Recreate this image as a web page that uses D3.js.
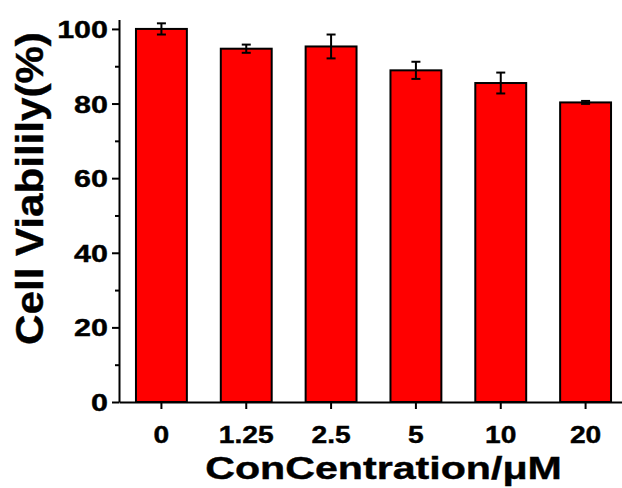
<!DOCTYPE html>
<html>
<head>
<meta charset="utf-8">
<script src="https://cdn.jsdelivr.net/npm/d3@7"></script>
<style>
  html, body { margin: 0; padding: 0; background: #fff; }
  svg { display: block; }
  text { font-family: Arial, "Liberation Sans", sans-serif; font-weight: bold; fill: #000; stroke: #000; stroke-width: 0.4px; }
</style>
</head>
<body>
<svg id="chart" width="622" height="488"></svg>
<script>
// Cell viability at each concentration (mean and error, %)
const concentrations = ["0", "1.25", "2.5", "5", "10", "20"];
const viability = [100.0, 94.7, 95.3, 88.9, 85.5, 80.3];
const viabilityErr = [1.5, 1.1, 3.2, 2.3, 2.8, 0.4];
const yMajorTicks = [0, 20, 40, 60, 80, 100];
const yMinorTicks = [10, 30, 50, 70, 90];

const svg = d3.select("#chart");

const x = d3.scaleBand()
  .domain(concentrations)
  .range([119, 628])
  .paddingInner(0.4)
  .paddingOuter(0.2);

const y = d3.scaleLinear()
  .domain([0, 102.5])
  .range([402, 19.6]);

// bars
svg.append("g")
  .selectAll("rect")
  .data(concentrations)
  .join("rect")
  .attr("x", d => x(d))
  .attr("y", (d, i) => y(viability[i]))
  .attr("width", x.bandwidth())
  .attr("height", (d, i) => y(0) - y(viability[i]))
  .attr("fill", "#ff0000")
  .attr("stroke", "#000")
  .attr("stroke-width", 2);

// error bars
const capHalf = 4.5;
const err = svg.append("g").attr("stroke", "#000").attr("stroke-width", 2);
concentrations.forEach((c, i) => {
  const cx = x(c) + x.bandwidth() / 2;
  const hi = y(viability[i] + viabilityErr[i]);
  const lo = y(viability[i] - viabilityErr[i]);
  err.append("line").attr("x1", cx).attr("x2", cx).attr("y1", hi).attr("y2", lo);
  err.append("line").attr("x1", cx - capHalf).attr("x2", cx + capHalf).attr("y1", hi).attr("y2", hi);
  err.append("line").attr("x1", cx - capHalf).attr("x2", cx + capHalf).attr("y1", lo).attr("y2", lo);
});

// y axis: minor ticks, then major ticks with labels
svg.append("g")
  .attr("transform", "translate(119,0)")
  .call(d3.axisLeft(y).tickValues(yMinorTicks).tickSize(4).tickSizeOuter(0).tickFormat(""))
  .call(g => g.select(".domain").remove())
  .call(g => g.selectAll("line").attr("stroke-width", 2));

const ySx = 1.27;
svg.append("g")
  .attr("transform", "translate(119,0)")
  .call(d3.axisLeft(y).tickValues(yMajorTicks).tickSize(7).tickSizeOuter(0).tickFormat(d3.format("d")))
  .call(g => g.select(".domain").attr("stroke-width", 2))
  .call(g => g.selectAll("line").attr("stroke-width", 2))
  .call(g => g.selectAll("text")
    .attr("font-size", 24)
    .attr("font-family", null)
    .attr("fill", null)
    .attr("x", -11 / ySx)
    .attr("dy", "0.355em")
    .attr("transform", `scale(${ySx},1)`));

// x axis
const xSx = 1.2;
svg.append("g")
  .attr("transform", "translate(0,402)")
  .call(d3.axisBottom(x).tickSize(7).tickSizeOuter(0))
  .call(g => g.select(".domain").attr("stroke-width", 2))
  .call(g => g.selectAll("line").attr("stroke-width", 2))
  .call(g => g.selectAll("text")
    .attr("font-size", 23.5)
    .attr("font-family", null)
    .attr("fill", null)
    .attr("y", 41.5)
    .attr("dy", 0)
    .attr("transform", `scale(${xSx},1)`));

// axis titles
svg.append("text")
  .attr("transform", "translate(383.5,479) scale(1.35,1)")
  .attr("text-anchor", "middle")
  .attr("font-size", 30.5)
  .text("ConCentration/μM");

svg.append("text")
  .attr("transform", "translate(43,188.5) rotate(-90) scale(1.08,1)")
  .attr("text-anchor", "middle")
  .attr("font-size", 39)
  .text("Cell Viabilily(%)");
</script>
</body>
</html>
